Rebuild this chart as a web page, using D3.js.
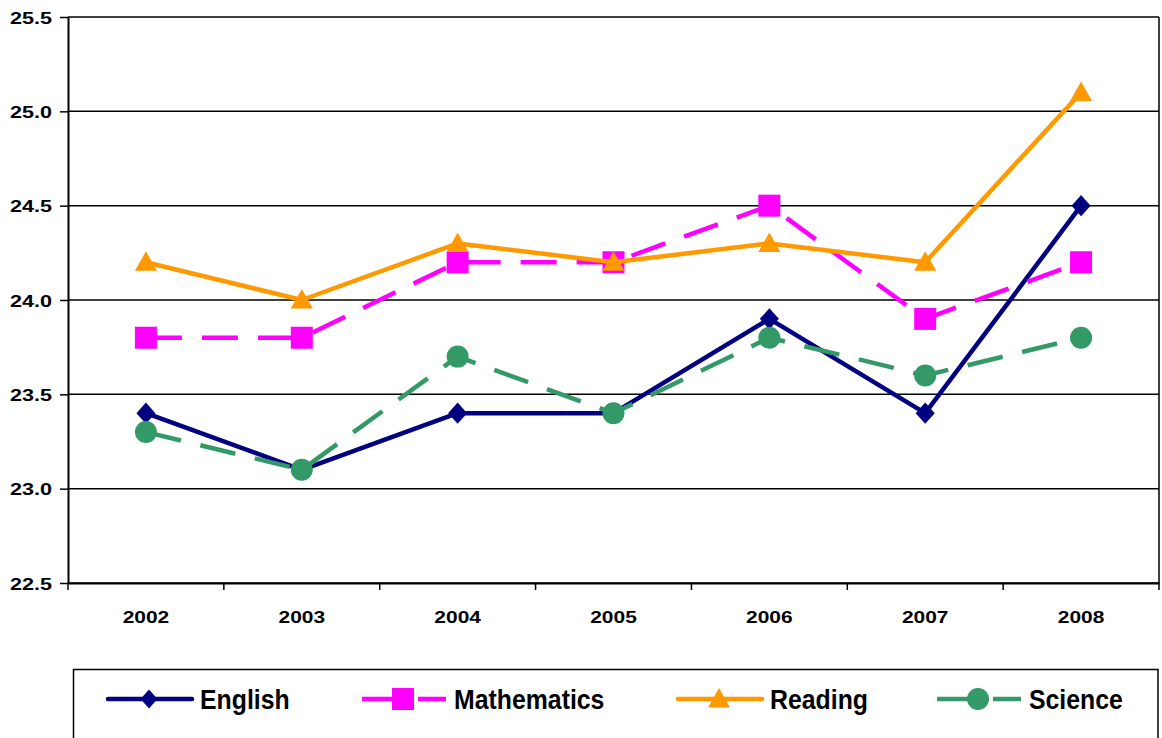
<!DOCTYPE html>
<html>
<head>
<meta charset="utf-8">
<script src="https://cdn.jsdelivr.net/npm/d3@7"></script>
<style>
  body { margin: 0; background: #fff; }
  svg { display: block; font-family: "Liberation Sans", Arial, sans-serif; font-weight: bold; }
</style>
</head>
<body>
<div id="chart"></div>
<script>
// chart data
const years = ["2002", "2003", "2004", "2005", "2006", "2007", "2008"];
const english = [23.4, 23.1, 23.4, 23.4, 23.9, 23.4, 24.5];
const mathematics = [23.8, 23.8, 24.2, 24.2, 24.5, 23.9, 24.2];
const reading = [24.2, 24.0, 24.3, 24.2, 24.3, 24.2, 25.1];
const science = [23.3, 23.1, 23.7, 23.4, 23.8, 23.6, 23.8];
const yTicks = [22.5, 23.0, 23.5, 24.0, 24.5, 25.0, 25.5];

const series = [
    {name: "English", values: english, color: "#000080", dash: null, marker: "diamond"},
    {name: "Mathematics", values: mathematics, color: "#FF00FF", dash: "36,20", marker: "square"},
    {name: "Reading", values: reading, color: "#FF9900", dash: null, marker: "triangle"},
    {name: "Science", values: science, color: "#339966", dash: "36,20", marker: "circle"}
];

const W = 1162, H = 738;
const plot = {left: 68, right: 1159, top: 17, bottom: 583};

const svg = d3.select("#chart").append("svg")
    .attr("width", W)
    .attr("height", H);

const x = d3.scaleBand()
    .domain(years)
    .range([plot.left, plot.right]);

const y = d3.scaleLinear()
    .domain([22.5, 25.5])
    .range([plot.bottom, plot.top]);

// gridlines
svg.append("g")
    .selectAll("line")
    .data(yTicks)
    .enter().append("line")
    .attr("x1", plot.left)
    .attr("x2", plot.right)
    .attr("y1", d => y(d))
    .attr("y2", d => y(d))
    .attr("stroke", "#000")
    .attr("stroke-width", 1.5);

// right border
svg.append("line")
    .attr("x1", plot.right).attr("x2", plot.right)
    .attr("y1", plot.top).attr("y2", plot.bottom)
    .attr("stroke", "#000")
    .attr("stroke-width", 1.5);

// y axis
const yAxis = d3.axisLeft(y)
    .tickValues(yTicks)
    .tickFormat(d3.format(".1f"))
    .tickSize(8)
    .tickSizeOuter(0);

const yG = svg.append("g")
    .attr("transform", `translate(${plot.left},0)`)
    .call(yAxis);
yG.select(".domain").attr("stroke", "#000").attr("stroke-width", 2);
yG.selectAll(".tick line").attr("stroke", "#000").attr("stroke-width", 1.5);
yG.selectAll(".tick text")
    .attr("x", -16 / 1.27)
    .attr("dy", "0.36em")
    .attr("transform", "scale(1.27,1)")
    .style("font-family", '"Liberation Sans", Arial, sans-serif')
    .style("font-weight", "bold")
    .style("font-size", "17px")
    .attr("fill", "#000");

// x axis (labels at category centers)
const xAxis = d3.axisBottom(x)
    .tickSize(0)
    .tickSizeOuter(0);

const xG = svg.append("g")
    .attr("transform", `translate(0,${plot.bottom})`)
    .call(xAxis);
xG.select(".domain").attr("stroke", "#000").attr("stroke-width", 2);
xG.selectAll(".tick text")
    .attr("x", 0)
    .attr("y", 40)
    .attr("dy", 0)
    .attr("transform", "scale(1.27,1)")
    .style("font-family", '"Liberation Sans", Arial, sans-serif')
    .style("font-weight", "bold")
    .style("font-size", "16.5px")
    .attr("fill", "#000");

// tick marks between categories
const boundaries = years.map(d => x(d)).concat([x(years[years.length - 1]) + x.step()]);
svg.append("g")
    .selectAll("line")
    .data(boundaries)
    .enter().append("line")
    .attr("x1", d => d).attr("x2", d => d)
    .attr("y1", plot.bottom).attr("y2", plot.bottom + 7)
    .attr("stroke", "#000")
    .attr("stroke-width", 1.5);

// markers (k scales the marker: plot markers are a little bigger than legend ones)
function drawMarker(g, type, color, cx, cy, k) {
    if (type === "diamond") {
        g.append("path")
            .attr("d", `M${cx},${cy - 9.5 * k}L${cx + 8.5 * k},${cy}L${cx},${cy + 9.5 * k}L${cx - 8.5 * k},${cy}Z`)
            .attr("fill", color);
    } else if (type === "square") {
        g.append("rect")
            .attr("x", cx - 11).attr("y", cy - 11)
            .attr("width", 22).attr("height", 22)
            .attr("fill", color);
    } else if (type === "triangle") {
        g.append("path")
            .attr("d", `M${cx},${cy - 11}L${cx + 11},${cy + 8.5}L${cx - 11},${cy + 8.5}Z`)
            .attr("fill", color);
    } else {
        g.append("circle")
            .attr("cx", cx).attr("cy", cy)
            .attr("r", 11)
            .attr("fill", color);
    }
}

const line = d3.line()
    .x((d, i) => x(years[i]) + x.bandwidth() / 2)
    .y(d => y(d));

series.forEach(s => {
    const g = svg.append("g");
    g.append("path")
        .datum(s.values)
        .attr("d", line)
        .attr("fill", "none")
        .attr("stroke", s.color)
        .attr("stroke-width", 4.5)
        .attr("stroke-linejoin", "round")
        .attr("stroke-dasharray", s.dash);
    s.values.forEach((v, i) => {
        drawMarker(g, s.marker, s.color, x(years[i]) + x.bandwidth() / 2, y(v), 1.12);
    });
});

// legend
svg.append("rect")
    .attr("x", 73.5)
    .attr("y", 669.5)
    .attr("width", 1158 - 73.5)
    .attr("height", 100)
    .attr("fill", "none")
    .attr("stroke", "#000")
    .attr("stroke-width", 1.5);

const legendX = [108, 362, 678, 937];
series.forEach((s, i) => {
    const g = svg.append("g");
    const x0 = legendX[i], ly = 699;
    g.append("line")
        .attr("x1", x0).attr("x2", x0 + 84)
        .attr("y1", ly).attr("y2", ly)
        .attr("stroke", s.color)
        .attr("stroke-width", 4.5)
        .attr("stroke-linecap", s.dash ? "butt" : "round")
        .attr("stroke-dasharray", s.dash);
    drawMarker(g, s.marker, s.color, x0 + 41, ly, 1);
    g.append("text")
        .attr("x", (x0 + 92) / 0.92)
        .attr("y", 709)
        .attr("transform", "scale(0.92,1)")
        .style("font-size", "27px")
        .attr("fill", "#000")
        .text(s.name);
});
</script>
</body>
</html>
